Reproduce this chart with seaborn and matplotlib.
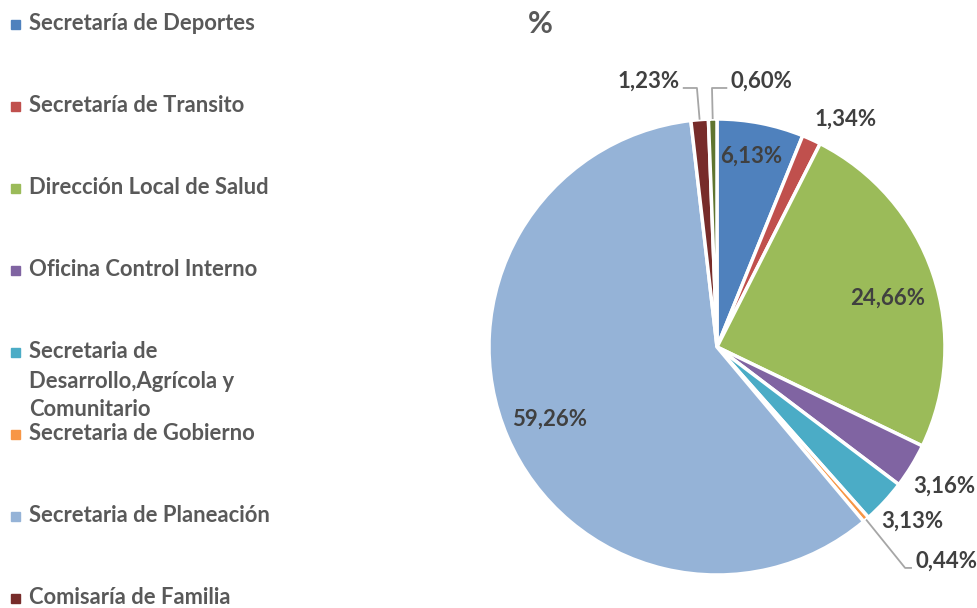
import numpy as np
import matplotlib
matplotlib.use("Agg")
import matplotlib.pyplot as plt
from matplotlib.patches import Rectangle
import seaborn as sns

# Data (Spanish decimal commas in labels)
dependencias = ["Secretaría de Deportes",
                "Secretaría de Transito",
                "Dirección Local de Salud",
                "Oficina Control Interno",
                "Secretaria de\nDesarrollo,Agrícola y\nComunitario",
                "Secretaria de Gobierno",
                "Secretaria de Planeación",
                "Comisaría de Familia",
                "Otra dependencia"]  # ninth entry is cut off in the source legend
porcentajes = [6.13, 1.34, 24.66, 3.16, 3.13, 0.44, 59.26, 1.23, 0.60]
colores = ['#4F81BD', '#C0504D', '#9BBB59', '#8064A2', '#4BACC6',
           '#F79646', '#95B3D7', '#772C2A', '#5F7530']

sns.set_theme(style="white")
plt.rcParams['font.family'] = ['Lato', 'DejaVu Sans']

fig = plt.figure(figsize=(9.78, 6.08), dpi=100)
ax = fig.add_axes([0, 0, 1, 1])

wedges, _ = ax.pie(porcentajes, colors=colores, startangle=90, counterclock=False,
                   wedgeprops=dict(edgecolor='white', linewidth=2.5))

# pie radius 1 = 228 px, centre at pixel (717, 347)
R = 228.0
ax.set_xlim(-717 / R, (978 - 717) / R)
ax.set_ylim(-(608 - 347) / R, 347 / R)
ax.set_aspect('equal')
ax.axis('off')

lab_color = '#404040'
lab_kw = dict(fontsize=16, fontweight='bold', color=lab_color)

# label placement: radius factor and angle shift in degrees (None -> leader line)
radios = [0.85, 1.15, 0.78, 1.17, 1.15, None, 0.80, None, None]
giros = [1, -5, -2.6, 0, 1, 0, 0, 0, 0]
for w, p, r, g in zip(wedges, porcentajes, radios, giros):
    if r is None:
        continue
    ang = np.deg2rad((w.theta1 + w.theta2) / 2 + g)
    ax.text(r * np.cos(ang), r * np.sin(ang), f"{p:.2f}%".replace('.', ','),
            ha='center', va='center', **lab_kw)

# small slices with leader lines: (wedge index, elbow point, text end, alignment)
lineas = [(5, (0.825, -0.969), (0.855, -0.969), 'left'),
          (7, (-0.088, 1.136), (-0.15, 1.136), 'right'),
          (8, (-0.022, 1.136), (0.045, 1.136), 'left')]
for i, codo, fin, ha in lineas:
    w = wedges[i]
    ang = np.deg2rad((w.theta1 + w.theta2) / 2)
    x0, y0 = np.cos(ang), np.sin(ang)
    ax.plot([x0, codo[0], fin[0]], [y0, codo[1], fin[1]], color='#A6A6A6', lw=1.3,
            solid_capstyle='butt')
    dx = 0.015 if ha == 'left' else -0.015
    ax.text(fin[0] + dx, fin[1] + 0.03, f"{porcentajes[i]:.2f}%".replace('.', ','),
            ha=ha, va='center', **lab_kw)

# title
fig.text(540 / 978, 1 - 24 / 608, "%", ha='center', va='center',
         fontsize=22, fontweight='bold', color='#595959')

# legend drawn on the left, first eight entries (the ninth is cut off)
leg_y = [24, 106, 188, 270, 352, 434, 516, 598]
for nombre, col, y in zip(dependencias[:8], colores[:8], leg_y):
    for k, linea in enumerate(nombre.split('\n')):
        fig.text(29 / 978, 1 - (y + k * 29) / 608, linea, ha='left', va='center',
                 fontsize=15.8, fontweight='bold', color='#595959')
    fig.patches.append(Rectangle((11 / 978, 1 - (y + 4.5) / 608), 9 / 978, 9 / 608,
                                 transform=fig.transFigure, color=col))

fig.savefig("out.png", dpi=100)
